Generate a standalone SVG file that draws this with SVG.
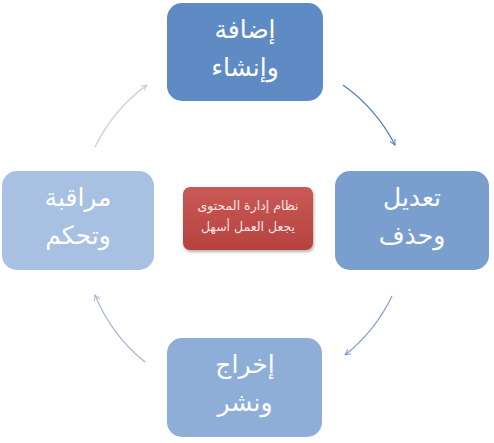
<svg xmlns="http://www.w3.org/2000/svg" width="494" height="443" viewBox="0 0 494 443">
<style>
.node-text{font-family:"DejaVu Sans","Noto Sans",sans-serif;font-size:25px;fill:#ffffff;text-anchor:middle;direction:rtl}
.center-text{font-family:"DejaVu Sans","Noto Sans",sans-serif;font-size:12.5px;fill:#fbe4e4;text-anchor:middle;direction:rtl}
.conn{fill:none;stroke-width:1.1}
</style>
<defs>
<marker id="ah1" viewBox="0 0 10 10" refX="9" refY="5" markerWidth="7" markerHeight="7" orient="auto" markerUnits="userSpaceOnUse"><path d="M1,1 L9,5 L1,9" fill="none" stroke="#4a76b5" stroke-width="1.3"/></marker>
<marker id="ah2" viewBox="0 0 10 10" refX="9" refY="5" markerWidth="7" markerHeight="7" orient="auto" markerUnits="userSpaceOnUse"><path d="M1,1 L9,5 L1,9" fill="none" stroke="#7a9ad0" stroke-width="1.3"/></marker>
<marker id="ah3" viewBox="0 0 10 10" refX="9" refY="5" markerWidth="7" markerHeight="7" orient="auto" markerUnits="userSpaceOnUse"><path d="M1,1 L9,5 L1,9" fill="none" stroke="#9db2d8" stroke-width="1.3"/></marker>
<marker id="ah4" viewBox="0 0 10 10" refX="9" refY="5" markerWidth="7" markerHeight="7" orient="auto" markerUnits="userSpaceOnUse"><path d="M1,1 L9,5 L1,9" fill="none" stroke="#bccbe3" stroke-width="1.3"/></marker>
<linearGradient id="redg" x1="0" y1="0" x2="0" y2="1">
<stop offset="0" stop-color="#c95a57"/>
<stop offset="1" stop-color="#b5423f"/>
</linearGradient>
<filter id="sh" x="-10%" y="-10%" width="125%" height="130%">
<feDropShadow dx="1" dy="2" stdDeviation="1.5" flood-color="#000" flood-opacity="0.3"/>
</filter>
</defs>
<g id="connectors">
<path class="conn" d="M343,85 A167,167 0 0 1 395,145" stroke="#4a76b5" marker-end="url(#ah1)"/>
<path class="conn" d="M392,296 A167,167 0 0 1 345,355" stroke="#7a9ad0" marker-end="url(#ah2)"/>
<path class="conn" d="M145,362 A167,167 0 0 1 95,295" stroke="#9db2d8" marker-end="url(#ah3)"/>
<path class="conn" d="M95,147 A167,167 0 0 1 147,85" stroke="#bccbe3" marker-end="url(#ah4)"/>
</g>
<g id="node-top">
<rect x="167" y="3" width="156" height="98" rx="15" fill="#5f8bc5"/>
<text class="node-text" x="245" y="38">إضافة</text>
<text class="node-text" x="245" y="76">وإنشاء</text>
</g>
<g id="node-right">
<rect x="335" y="171" width="154" height="99" rx="15" fill="#7a9fcf"/>
<text class="node-text" x="412" y="206">تعديل</text>
<text class="node-text" x="412" y="244">وحذف</text>
</g>
<g id="node-bottom">
<rect x="167" y="338" width="155" height="99" rx="15" fill="#8eaed8"/>
<text class="node-text" x="245" y="373">إخراج</text>
<text class="node-text" x="245" y="411">ونشر</text>
</g>
<g id="node-left">
<rect x="2" y="171" width="152" height="99" rx="15" fill="#a8c0e1"/>
<text class="node-text" x="78" y="206">مراقبة</text>
<text class="node-text" x="78" y="244">وتحكم</text>
</g>
<g id="node-center">
<rect x="183" y="187" width="130" height="63" rx="7" fill="url(#redg)" filter="url(#sh)"/>
<text class="center-text" x="248" y="210">نظام إدارة المحتوى</text>
<text class="center-text" x="248" y="231">يجعل العمل أسهل</text>
</g>
</svg>
